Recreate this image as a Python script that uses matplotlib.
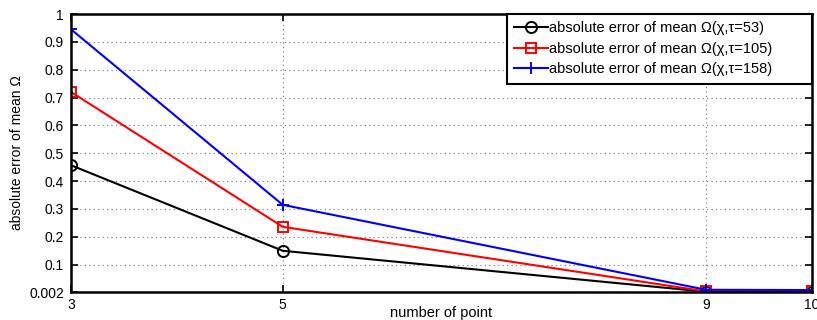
import matplotlib.pyplot as plt

# error values read per number of points
points = [3, 5, 9, 10]
err_tau53 = [0.457, 0.150, 0.003, 0.003]
err_tau105 = [0.720, 0.236, 0.004, 0.004]
err_tau158 = [0.945, 0.315, 0.010, 0.009]

x_ticks = [3, 5, 9, 10]
y_ticks = [0.002, 0.1, 0.2, 0.3, 0.4, 0.5, 0.6, 0.7, 0.8, 0.9, 1]
y_ticklabels = ['0.002', '0.1', '0.2', '0.3', '0.4', '0.5', '0.6', '0.7', '0.8', '0.9', '1']

plt.rcParams['font.family'] = ['Liberation Sans', 'DejaVu Sans']

fig = plt.figure(figsize=(8.17, 3.2), dpi=100)
ax = fig.add_axes([71 / 817, 1 - 292 / 320, (812 - 71) / 817, (292 - 14) / 320])

ax.plot(points, err_tau53, color='black', lw=1.5, marker='o', ms=8,
        mfc='none', mew=1.4, label='absolute error of mean \u03a9(\u03c7,\u03c4=53)')
ax.plot(points, err_tau105, color='red', lw=1.5, marker='s', ms=7,
        mfc='none', mew=1.4, label='absolute error of mean \u03a9(\u03c7,\u03c4=105)')
ax.plot(points, err_tau158, color='blue', lw=1.5, marker='+', ms=9,
        mew=1.4, label='absolute error of mean \u03a9(\u03c7,\u03c4=158)')

ax.set_xlim(3, 10)
ax.set_ylim(0.002, 1)
ax.set_xticks(x_ticks)
ax.set_yticks(y_ticks)
ax.set_yticklabels(y_ticklabels)
ax.tick_params(direction='in', top=True, right=True, length=5, width=1.2,
               labelsize=10)
ax.tick_params(axis='y', pad=5)
ax.tick_params(axis='x', pad=4)
ax.grid(True, linestyle=(0, (1, 3)), color='#777777', lw=0.8)
for sp in ax.spines.values():
    sp.set_linewidth(1.8)

ax.set_xlabel('number of point', fontsize=10.5)
ax.xaxis.set_label_coords(0.5, -0.05)
ax.set_ylabel('absolute error of mean \u03a9', fontsize=10)
ax.yaxis.set_label_coords(-0.063, 0.5)

# legend box stretched over the upper-right part of the axes
leg_x0 = (507 - 71) / 741
leg_h = (82 - 14) / 278
leg = ax.legend(loc='upper left', bbox_to_anchor=(leg_x0, 1 - leg_h, 1 - leg_x0, leg_h),
                mode='expand', fontsize=10.5, frameon=True, fancybox=False,
                borderaxespad=0, handlelength=2.3, handletextpad=0.1,
                labelspacing=0.45, borderpad=0.5, framealpha=1)
leg.get_frame().set_edgecolor('black')
leg.get_frame().set_linewidth(1.5)

fig.savefig('out.png', dpi=100)
